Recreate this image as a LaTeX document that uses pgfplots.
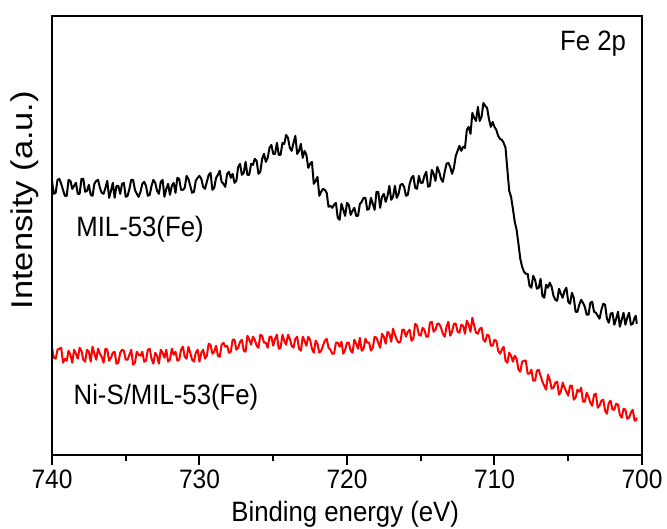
\documentclass[border=0pt]{standalone}
\usepackage{fontspec}
\setmainfont{Liberation Sans}[FakeStretch=0.92]
\newfontfamily\ylabfont{Liberation Sans}[FakeStretch=1.15]
\usepackage{pgfplots}
\usepackage{pgfplotstable}
\pgfplotsset{compat=1.18}

% Fe 2p spectra (intensity in arbitrary units)
\pgfplotstableread{
x y
740.00 274
739.875 261
739.75 262
739.625 275
739.50 276
739.375 271
739.25 265
739.125 259
739.00 259
738.875 275
738.75 274
738.625 266
738.50 269
738.375 272
738.25 261
738.125 261
738.00 276
737.875 276
737.75 263
737.625 264
737.50 270
737.375 260
737.25 259
737.125 271
737.00 274
736.875 275
736.75 267
736.625 262
736.50 261
736.375 267
736.25 274
736.125 257
736.00 264
735.875 272
735.75 257
735.625 269
735.50 269
735.375 261
735.25 271
735.125 272
735.00 258
734.875 259
734.75 266
734.625 275
734.50 275
734.375 265
734.25 261
734.125 258
734.00 263
733.875 271
733.75 273
733.625 269
733.50 259
733.375 260
733.25 269
733.125 275
733.00 272
732.875 264
732.75 261
732.625 273
732.50 275
732.375 258
732.25 266
732.125 271
732.00 260
731.875 269
731.75 272
731.625 262
731.50 277
731.375 276
731.25 265
731.125 265
731.00 267
730.875 279
730.75 276
730.625 269
730.50 262
730.375 263
730.25 274
730.125 277
730.00 279
729.875 276
729.75 268
729.625 266
729.50 273
729.375 280
729.25 282
729.125 265
729.00 267
728.875 277
728.75 280
728.625 284
728.50 273
728.375 271
728.25 268
728.125 281
728.00 283
727.875 277
727.75 281
727.625 272
727.50 274
727.375 288
727.25 291
727.125 280
727.00 282
726.875 293
726.75 280
726.625 280
726.50 291
726.375 290
726.25 296
726.125 294
726.00 281
725.875 283
725.75 296
725.625 301
725.50 293
725.375 297
725.25 307
725.125 310
725.00 301
724.875 301
724.75 312
724.625 300
724.50 300
724.375 312
724.25 311
724.125 320
724.00 317
723.875 307
723.75 304
723.625 312
723.50 319
723.375 301
723.25 304
723.125 311
723.00 297
722.875 304
722.75 300
722.625 287
722.50 291
722.375 293
722.25 271
722.125 274
722.00 278
721.875 259
721.75 263
721.625 266
721.50 265
721.375 262
721.25 248
721.125 249
721.00 247
720.875 250
720.75 252
720.625 237
720.50 235
720.375 251
720.25 245
720.125 239
720.00 252
719.875 250
719.75 240
719.625 244
719.50 247
719.375 239
719.25 239
719.125 251
719.00 253
718.875 257
718.75 257
718.625 245
718.50 246
718.375 257
718.25 251
718.125 245
718.00 263
717.875 263
717.75 247
717.625 258
717.50 261
717.375 253
717.25 259
717.125 269
717.00 255
716.875 258
716.75 269
716.625 257
716.50 261
716.375 270
716.25 271
716.125 268
716.00 259
715.875 260
715.75 271
715.625 277
715.50 279
715.375 267
715.25 266
715.125 279
715.00 272
714.875 272
714.75 279
714.625 283
714.50 268
714.375 269
714.25 285
714.125 281
714.00 274
713.875 288
713.75 283
713.625 276
713.50 273
713.375 283
713.25 291
713.125 292
713.00 288
712.875 281
712.75 287
712.625 299
712.50 304
712.375 309
712.25 304
712.125 308
712.00 307
711.875 325
711.75 328
711.625 321
711.50 342
711.375 337
711.25 334
711.125 348
711.00 334
710.875 338
710.75 352
710.625 349
710.50 347
710.375 336
710.25 328
710.125 333
710.00 328
709.875 325
709.75 319
709.625 316
709.50 315
709.375 312
709.25 307
709.125 285
709.00 264
708.875 258
708.75 246
708.625 233
708.50 225
708.375 211
708.25 196
708.125 188
708.00 183
707.875 181
707.75 181
707.625 169
707.50 167
707.375 179
707.25 175
707.125 166
707.00 167
706.875 176
706.75 159
706.625 157
706.50 170
706.375 167
706.25 172
706.125 168
706.00 159
705.875 155
705.75 154
705.625 166
705.50 161
705.375 157
705.25 164
705.125 167
705.00 153
704.875 151
704.75 162
704.625 157
704.50 143
704.375 143
704.25 150
704.125 155
704.00 152
703.875 148
703.75 140
703.625 140
703.50 152
703.375 153
703.25 143
703.125 142
703.00 139
702.875 136
702.75 145
702.625 151
702.50 150
702.375 136
702.25 132
702.125 141
702.00 142
701.875 130
701.75 136
701.625 143
701.50 128
701.375 135
701.25 142
701.125 130
701.00 137
700.875 142
700.75 130
700.625 131
700.50 137
700.425 139
700.35 131
}\mil

\pgfplotstableread{
x y
740.00 107
739.875 97
739.75 96
739.625 105
739.50 106
739.375 107
739.25 92
739.125 96
739.00 94
738.875 104
738.75 100
738.625 92
738.50 105
738.375 101
738.25 96
738.125 107
738.00 104
737.875 95
737.75 93
737.625 105
737.50 103
737.375 93
737.25 108
737.125 101
737.00 95
736.875 106
736.75 101
736.625 98
736.50 92
736.375 106
736.25 105
736.125 94
736.00 97
735.875 102
735.75 103
735.625 91
735.50 92
735.375 102
735.25 105
735.125 104
735.00 95
734.875 95
734.75 100
734.625 105
734.50 90
734.375 92
734.25 103
734.125 100
734.00 99
733.875 103
733.75 93
733.625 94
733.50 105
733.375 106
733.25 96
733.125 91
733.00 102
732.875 99
732.75 91
732.625 105
732.50 102
732.375 97
732.25 105
732.125 93
732.00 95
731.875 106
731.75 100
731.625 103
731.50 94
731.375 95
731.25 105
731.125 108
731.00 98
730.875 96
730.75 108
730.625 102
730.50 95
730.375 93
730.25 102
730.125 105
730.00 93
729.875 102
729.75 105
729.625 96
729.50 99
729.375 111
729.25 110
729.125 101
729.00 103
728.875 109
728.75 99
728.625 98
728.50 110
728.375 112
728.25 108
728.125 109
728.00 102
727.875 103
727.75 115
727.625 115
727.50 105
727.375 107
727.25 113
727.125 115
727.00 104
726.875 103
726.75 119
726.625 115
726.50 110
726.375 118
726.25 115
726.125 109
726.00 107
725.875 120
725.75 119
725.625 112
725.50 112
725.375 107
725.25 118
725.125 118
725.00 109
724.875 116
724.75 120
724.625 106
724.50 107
724.375 120
724.25 114
724.125 110
724.00 120
723.875 116
723.75 109
723.625 107
723.50 116
723.375 118
723.25 106
723.125 104
723.00 118
722.875 114
722.75 109
722.625 118
722.50 115
722.375 106
722.25 102
722.125 114
722.00 111
721.875 102
721.75 104
721.625 109
721.50 114
721.375 116
721.25 107
721.125 105
721.00 101
720.875 101
720.75 112
720.625 112
720.50 108
720.375 113
720.25 101
720.125 105
720.00 112
719.875 112
719.75 104
719.625 102
719.50 115
719.375 111
719.25 106
719.125 117
719.00 104
718.875 106
718.75 116
718.625 112
718.50 112
718.375 104
718.25 107
718.125 118
718.00 117
717.875 112
717.75 107
717.625 121
717.50 118
717.375 111
717.25 123
717.125 121
717.00 113
716.875 126
716.75 120
716.625 115
716.50 112
716.375 113
716.25 125
716.125 125
716.00 118
715.875 123
715.75 125
715.625 114
715.50 116
715.375 131
715.25 129
715.125 120
715.00 119
714.875 127
714.75 125
714.625 118
714.50 118
714.375 132
714.25 133
714.125 123
714.00 125
713.875 131
713.75 131
713.625 127
713.50 121
713.375 118
713.25 128
713.125 133
713.00 119
712.875 123
712.75 131
712.625 131
712.50 123
712.375 122
712.25 130
712.125 129
712.00 121
711.875 134
711.75 130
711.625 123
711.50 137
711.375 129
711.25 122
711.125 121
711.00 126
710.875 127
710.75 115
710.625 113
710.50 120
710.375 119
710.25 109
710.125 109
710.00 115
709.875 114
709.75 104
709.625 101
709.50 105
709.375 108
709.25 94
709.125 92
709.00 102
708.875 99
708.75 93
708.625 99
708.50 96
708.375 85
708.25 83
708.125 93
708.00 94
707.875 94
707.75 81
707.625 81
707.50 85
707.375 74
707.25 74
707.125 84
707.00 85
706.875 79
706.75 73
706.625 69
706.50 65
706.375 80
706.25 75
706.125 66
706.00 67
705.875 72
705.75 73
705.625 60
705.50 63
705.375 72
705.25 67
705.125 63
705.00 59
704.875 69
704.75 69
704.625 55
704.50 57
704.375 65
704.25 63
704.125 67
704.00 53
703.875 53
703.75 62
703.625 58
703.50 52
703.375 49
703.25 60
703.125 61
703.00 47
702.875 49
702.75 54
702.625 55
702.50 44
702.375 41
702.25 52
702.125 54
702.00 45
701.875 45
701.75 51
701.625 50
701.50 40
701.375 37
701.25 46
701.125 45
701.00 36
700.875 37
700.75 42
700.625 45
700.50 34
700.425 34
700.35 37
}\nis

\begin{document}
\begin{tikzpicture}
\begin{axis}[
    scale only axis,
    width=442.5pt,
    height=329pt,
    x dir=reverse,
    xmin=700, xmax=740,
    ymin=0, ymax=439,
    xtick={700,710,720,730,740},
    minor x tick num=1,
    ytick=\empty,
    xtick pos=left,
    tick align=outside,
    major tick length=7.5pt,
    minor tick length=5pt,
    every tick/.style={black, line width=1.5pt},
    /pgf/number format/assume math mode=true,
    tick label style={font=\fontsize{20}{22}\selectfont, inner sep=1pt},
    xticklabel style={yshift=-3pt},
    clip=false,
]

\addplot[black, line width=1.5pt, line join=round] table[x=x, y=y] {\mil};
\addplot[red, line width=1.5pt, line join=round] table[x=x, y=y] {\nis};

% frame and page extent
\draw[line width=1.5pt] (rel axis cs:0,0) -- (rel axis cs:0,1) -- (rel axis cs:1,1) -- (rel axis cs:1,0) -- cycle;
\path (rel axis cs:-0.0881,-0.1686) rectangle (rel axis cs:1.0424,1.0364);

\node[font=\fontsize{21}{23}\selectfont, inner sep=0pt] at (axis cs:734.03,226) {MIL-53(Fe)};
\node[font=\fontsize{21}{23}\selectfont, inner sep=0pt] at (axis cs:732.27,57) {Ni-S/MIL-53(Fe)};
\node[font=\fontsize{21}{23}\selectfont, inner sep=0pt] at (rel axis cs:0.917,0.938) {Fe 2p};

\node[font=\fontsize{21}{23}\selectfont, inner sep=0pt, anchor=center] at (rel axis cs:0.497,-0.136) {Binding energy (eV)};
\node[font=\ylabfont\fontsize{22.5}{24}\selectfont, inner sep=0pt, rotate=90, anchor=center] at (rel axis cs:-0.046,0.58) {Intensity (a.u.)};
\end{axis}
\end{tikzpicture}
\end{document}
